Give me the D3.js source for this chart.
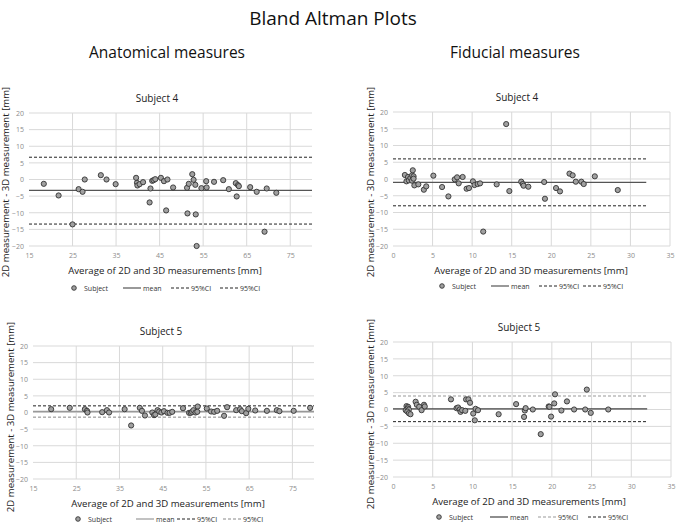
<!DOCTYPE html>
<html>
<head>
<meta charset="utf-8">
<script src="https://cdn.jsdelivr.net/npm/d3@7"></script>
<style>
  body { margin: 0; background: #fff; }
  svg { display: block; font-family: "Open Sans", sans-serif; }
</style>
</head>
<body>
<div id="chart"></div>
<script>
const WIDTH = 676;
const HEIGHT = 525;

// tick values
const X_TICKS_ANAT = [15, 25, 35, 45, 55, 65, 75];
const X_TICKS_FID = [0, 5, 10, 15, 20, 25, 30, 35];
const Y_TICKS = [-20, -15, -10, -5, 0, 5, 10, 15, 20];
const LEGEND_LABELS = ["Subject", "mean", "95%CI", "95%CI"];

// [average, difference]
const anatS4 = [
  [18.4, -1.3], [21.8, -4.8], [25.0, -13.5], [26.4, -2.9], [27.3, -3.7], [27.8, 0],
  [31.5, 1.3], [32.8, 0], [34.9, -1.4], [39.6, 0.5], [39.8, -1.0], [39.9, -1.8],
  [40.4, -1.4], [41.2, -0.8], [42.7, -6.9], [42.9, -2.7], [43.3, -0.4], [43.6, -0.2],
  [44.0, 0.1], [45.3, 0.5], [46.0, -0.5], [46.5, -9.3], [46.8, 0], [48.1, -2.4],
  [51.3, -2.5], [51.4, -10.2], [51.7, -1.3], [52.5, 1.6], [52.8, -0.1], [53.2, -1.6],
  [53.3, -10.5], [53.5, -20], [54.6, -2.6], [55.7, -0.5], [55.8, -2.4], [57.5, -0.7],
  [59.6, -0.2], [60.9, -2.9], [62.5, -1.1], [62.7, -5.1], [63.0, -1.7], [63.2, -2.0],
  [65.8, -2.3], [67.3, -3.7], [69.6, -2.7], [69.1, -15.7], [71.8, -4.0]
];
const fidS4 = [
  [1.5, 1.2], [1.7, -0.7], [1.9, 0.6], [2.0, -0.4], [2.2, 0.3], [2.4, 1.1],
  [2.4, -0.5], [2.5, 2.6], [2.6, 0.8], [2.6, 0.1], [2.7, -1.9], [3.2, -1.6],
  [3.9, -3.2], [4.2, -2.2], [5.1, 1.0], [6.2, -2.4], [7.0, -5.2], [7.8, -0.1],
  [8.1, 0.5], [8.3, -1.3], [8.8, 0.6], [9.3, -2.9], [9.6, -2.7], [10.1, -0.7],
  [10.3, -1.8], [10.7, -1.5], [11.0, -1.3], [11.4, -15.7], [13.1, -1.6], [14.3, 16.4],
  [14.7, -3.6], [16.2, -0.8], [16.4, -1.5], [16.5, -2.0], [17.1, -2.3], [19.1, -0.9],
  [19.2, -5.9], [20.6, -2.7], [21.1, -3.7], [22.3, 1.6], [22.7, 1.1], [23.1, -0.8],
  [23.8, -0.8], [24.1, -1.5], [25.5, 0.8], [28.4, -3.3]
];
const anatS5 = [
  [19.2, 1.0], [23.5, 1.4], [27.0, 1.0], [27.5, 0.5], [27.6, 0], [31.0, 0.1],
  [32.1, 0.7], [32.6, 0], [36.2, 1.0], [37.7, -3.9], [39.7, 1.4], [40.2, 0.5],
  [40.9, -0.9], [42.6, 0], [43.0, -0.8], [43.3, -0.6], [43.8, 0.7], [44.2, 0.3],
  [44.7, 0], [45.3, 0.4], [46.1, -0.1], [46.6, -0.1], [47.2, 0.2], [49.7, 1.3],
  [51.1, -0.1], [51.5, -0.1], [51.8, 0.2], [52.1, 0.7], [52.6, 0], [53.1, 1.8],
  [53.0, 0.2], [55.2, 1.2], [56.2, 0.3], [56.9, 0.2], [57.6, 0.5], [59.2, -1.0],
  [59.9, 1.6], [62.0, 0.7], [62.9, 1.0], [63.3, 0.4], [64.3, -0.2], [64.8, 1.1],
  [66.4, 0.6], [69.1, 0.5], [71.4, 0.7], [72.0, 0.4], [75.3, 0.5], [79.1, 1.4]
];
const fidS5 = [
  [1.7, 1.0], [1.9, 0.8], [1.6, -0.2], [1.85, 0.3], [2.0, 0], [1.8, -0.6],
  [2.0, -1.1], [2.2, -1.4], [2.85, 2.3], [3.0, 1.4], [3.3, 0.8], [3.6, -0.2],
  [3.9, 1.4], [4.0, 0.9], [7.3, 3.0], [8.0, 0.4], [8.2, 0.6], [8.4, 0],
  [8.5, -0.7], [8.7, -0.2], [9.1, -0.4], [9.2, 3.0], [9.5, 3.0], [9.7, 2.0],
  [10.1, -1.2], [10.3, -3.2], [10.4, 0.2], [10.7, -0.2], [13.3, -1.4], [15.5, 1.6],
  [16.5, -2.2], [16.6, -0.3], [16.7, 0.4], [17.6, 0], [18.6, -7.3], [19.6, 0.9],
  [19.7, 0.8], [19.9, -2.1], [20.3, 1.8], [20.4, 4.5], [21.2, -0.3], [21.9, 2.4],
  [22.8, 0], [24.2, 0], [24.4, 5.9], [24.9, -1.0], [27.1, 0]
];

// [mean, upper 95%CI, lower 95%CI]
const anatS4Stats = [-3.3, 6.7, -13.4];
const fidS4Stats = [-1.0, 6.0, -8.0];
const anatS5Stats = [0.3, 2.0, -1.4];
const fidS5Stats = [0.2, 4.0, -3.6];

const svg = d3.select("#chart").append("svg")
    .attr("width", WIDTH)
    .attr("height", HEIGHT);

svg.append("rect").attr("width", WIDTH).attr("height", HEIGHT).attr("fill", "#fff");

// page titles
svg.append("text").attr("x", 333).attr("y", 25).attr("text-anchor", "middle")
   .style("font-size", "19px").attr("fill", "#111").text("Bland Altman Plots");
svg.append("text").attr("x", 167).attr("y", 58).attr("text-anchor", "middle")
   .style("font-size", "15.5px").attr("fill", "#111").text("Anatomical measures");
svg.append("text").attr("x", 515).attr("y", 58).attr("text-anchor", "middle")
   .style("font-size", "15.5px").attr("fill", "#111").text("Fiducial measures");

function drawPanel(p) {
    const x = d3.scaleLinear().domain(p.xDomain).range([p.left, p.right]);
    const y = d3.scaleLinear().domain([-20, 20]).range([p.bottom, p.top]);
    const g = svg.append("g");

    // grid
    g.selectAll(".hg").data(Y_TICKS).join("line")
     .attr("x1", p.left).attr("x2", p.right)
     .attr("y1", d => y(d)).attr("y2", d => y(d))
     .attr("stroke", "#d9d9d9").attr("stroke-width", 1);
    g.selectAll(".vg").data(p.xTicks.slice(1)).join("line")
     .attr("x1", d => x(d)).attr("x2", d => x(d))
     .attr("y1", p.top).attr("y2", p.bottom)
     .attr("stroke", "#d9d9d9").attr("stroke-width", 1);

    // axes (labels only)
    const xAxis = g.append("g").attr("transform", "translate(0," + (p.bottom + 4) + ")")
        .call(d3.axisBottom(x).tickValues(p.xTicks).tickSize(0).tickPadding(3));
    const yAxis = g.append("g").attr("transform", "translate(" + (p.left - 3) + ",0)")
        .call(d3.axisLeft(y).tickValues(Y_TICKS).tickSize(0).tickPadding(2));
    [xAxis, yAxis].forEach(a => {
        a.select(".domain").remove();
        a.selectAll("text").attr("fill", "#8c8c8c").style("font-size", "7px")
         .style("font-family", "Open Sans, sans-serif");
    });

    // mean and limits
    const xEnd = p.lineEnd;
    const lines = [
        { v: p.stats[0], dash: null, color: p.meanColor, w: 1.3 },
        { v: p.stats[1], dash: "3,2", color: p.upColor, w: 1 },
        { v: p.stats[2], dash: "3,2", color: p.lowColor, w: 1 }
    ];
    g.selectAll(".stat").data(lines).join("line")
     .attr("x1", p.left).attr("x2", x(xEnd))
     .attr("y1", d => y(d.v)).attr("y2", d => y(d.v))
     .attr("stroke", d => d.color).attr("stroke-width", d => d.w)
     .attr("stroke-dasharray", d => d.dash);

    // points
    g.selectAll(".pt").data(p.data).join("circle")
     .attr("cx", d => x(d[0])).attr("cy", d => y(d[1])).attr("r", 2.6)
     .attr("fill", "#a0a0a0").attr("stroke", "#333").attr("stroke-width", 0.9);

    // titles
    g.append("text").attr("x", p.titleX).attr("y", p.top - 11).attr("text-anchor", "middle")
     .style("font-size", "10px").attr("fill", "#222").text(p.title);
    g.append("text").attr("x", p.xTitleX).attr("y", p.bottom + 28).attr("text-anchor", "middle")
     .style("font-size", "9.6px").attr("fill", "#222").text("Average of 2D and 3D measurements [mm]");
    g.append("text")
     .attr("transform", "translate(" + p.yTitleX + "," + p.yTitleY + ") rotate(-90)")
     .attr("text-anchor", "middle").style("font-size", "9.6px").attr("fill", "#222")
     .text("2D measurement - 3D measurement [mm]");

    // legend
    const lg = g.append("g").attr("transform", "translate(0," + p.legendY + ")");
    const lx = p.legendX;
    lg.append("circle").attr("cx", lx[0]).attr("cy", 0).attr("r", 2.3)
      .attr("fill", "#a0a0a0").attr("stroke", "#333").attr("stroke-width", 0.9);
    lg.append("line").attr("x1", lx[1]).attr("x2", lx[1] + 18).attr("y1", 0).attr("y2", 0)
      .attr("stroke", p.meanColor).attr("stroke-width", 1.2);
    lg.append("line").attr("x1", lx[2]).attr("x2", lx[2] + 18).attr("y1", 0).attr("y2", 0)
      .attr("stroke", p.upColor).attr("stroke-dasharray", "3,2");
    lg.append("line").attr("x1", lx[3]).attr("x2", lx[3] + 18).attr("y1", 0).attr("y2", 0)
      .attr("stroke", p.lowColor).attr("stroke-dasharray", "3,2");
    lg.selectAll(".lt").data(LEGEND_LABELS).join("text")
      .attr("x", (d, i) => lx[i] + (i === 0 ? 10 : 20)).attr("y", 2.5)
      .style("font-size", "7px").attr("fill", "#333").text(d => d);
}

drawPanel({
    data: anatS4, stats: anatS4Stats, title: "Subject 4",
    xDomain: [15, 80], xTicks: X_TICKS_ANAT, lineEnd: 80,
    left: 29, right: 312, top: 113, bottom: 246,
    titleX: 157, xTitleX: 165, yTitleX: 9, yTitleY: 182,
    legendY: 288, legendX: [74, 123, 171, 220],
    meanColor: "#555", upColor: "#222", lowColor: "#222"
});
drawPanel({
    data: fidS4, stats: fidS4Stats, title: "Subject 4",
    xDomain: [0, 35], xTicks: X_TICKS_FID, lineEnd: 32,
    left: 393, right: 670, top: 112, bottom: 246,
    titleX: 517, xTitleX: 531, yTitleX: 374, yTitleY: 182,
    legendY: 286, legendX: [442, 491, 539, 583],
    meanColor: "#555", upColor: "#222", lowColor: "#222"
});
drawPanel({
    data: anatS5, stats: anatS5Stats, title: "Subject 5",
    xDomain: [15, 80], xTicks: X_TICKS_ANAT, lineEnd: 80,
    left: 33, right: 314, top: 346, bottom: 479,
    titleX: 161, xTitleX: 168, yTitleX: 14, yTitleY: 417,
    legendY: 519, legendX: [78, 136, 177, 223],
    meanColor: "#999", upColor: "#222", lowColor: "#888"
});
drawPanel({
    data: fidS5, stats: fidS5Stats, title: "Subject 5",
    xDomain: [0, 35], xTicks: X_TICKS_FID, lineEnd: 32,
    left: 393, right: 671, top: 342, bottom: 477,
    titleX: 519, xTitleX: 529, yTitleX: 374, yTitleY: 414,
    legendY: 517, legendX: [439, 490, 538, 588],
    meanColor: "#444", upColor: "#999", lowColor: "#222"
});
</script>
</body>
</html>
